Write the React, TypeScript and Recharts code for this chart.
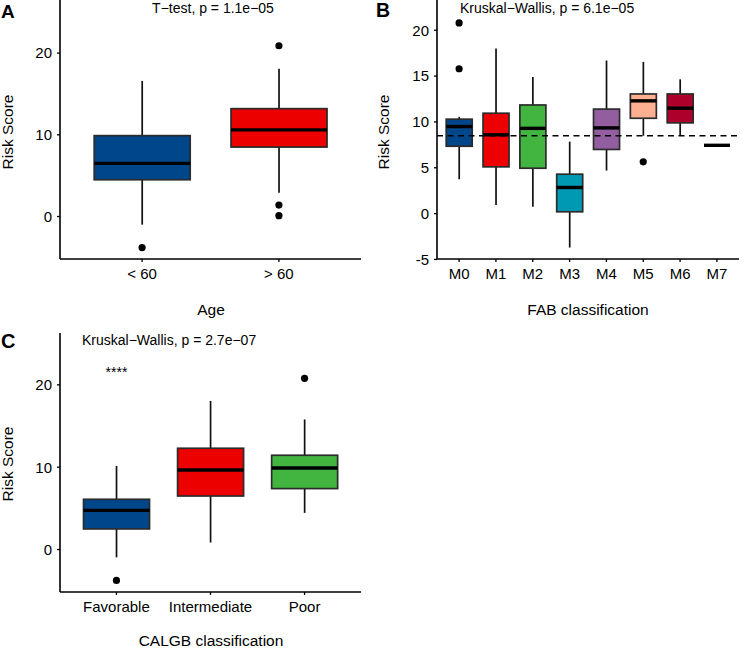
import { Bar, ComposedChart, ReferenceDot, ReferenceLine, Scatter, XAxis, YAxis } from 'recharts';

const FONT = '"Liberation Sans", Arial, Helvetica, sans-serif';

// Panel A: risk score by age group
const ageGroups = ['< 60', '> 60'];
const ageLower = [-1.0, 2.9];
const ageQ1 = [4.5, 8.5];
const ageMedian = [6.5, 10.6];
const ageQ3 = [9.9, 13.2];
const ageUpper = [16.6, 18.1];
const ageColors = ['#00468B', '#ED0000'];
const ageOutlierGroups = ['< 60', '> 60', '> 60', '> 60'];
const ageOutlierValues = [-3.8, 20.9, 1.4, 0.1];
const ageTicks = [0, 10, 20];

// Panel B: risk score by FAB classification
const fabGroups = ['M0', 'M1', 'M2', 'M3', 'M4', 'M5', 'M6', 'M7'];
const fabLower = [3.75, 0.95, 0.75, -3.7, 4.7, 8.5, 8.5, 7.45];
const fabQ1 = [7.35, 5.1, 4.95, 0.2, 7.0, 10.4, 9.9, 7.45];
const fabMedian = [9.5, 8.6, 9.3, 2.85, 9.35, 12.3, 11.5, 7.45];
const fabQ3 = [10.3, 10.95, 11.85, 4.3, 11.4, 13.05, 13.05, 7.45];
const fabUpper = [10.55, 18.0, 14.9, 7.85, 16.7, 16.55, 14.65, 7.45];
const fabColors = ['#00468B', '#ED0000', '#42B540', '#0099B4', '#925E9F', '#FDAF91', '#AD002A', '#ADB6B6'];
const fabOutlierGroups = ['M0', 'M0', 'M5'];
const fabOutlierValues = [20.8, 15.8, 5.65];
const fabOverallMedian = 8.5;
const fabTicks = [-5, 0, 5, 10, 15, 20];

// Panel C: risk score by CALGB classification
const calgbGroups = ['Favorable', 'Intermediate', 'Poor'];
const calgbLower = [-0.95, 0.85, 4.45];
const calgbQ1 = [2.5, 6.5, 7.4];
const calgbMedian = [4.75, 9.65, 9.9];
const calgbQ3 = [6.1, 12.3, 11.45];
const calgbUpper = [10.15, 18.05, 15.8];
const calgbColors = ['#00468B', '#ED0000', '#42B540'];
const calgbOutlierGroups = ['Favorable', 'Poor'];
const calgbOutlierValues = [-3.75, 20.8];
const calgbTicks = [0, 10, 20];
const calgbSignifGroup = 'Favorable';
const calgbSignifLevel = 21.6;

type BoxRow = {
  group: string;
  lower: number;
  q1: number;
  median: number;
  q3: number;
  upper: number;
  color: string;
};

const toRows = (
  groups: string[], lower: number[], q1: number[], median: number[],
  q3: number[], upper: number[], colors: string[],
): BoxRow[] =>
  groups.map((group, i) => ({
    group, lower: lower[i], q1: q1[i], median: median[i], q3: q3[i], upper: upper[i], color: colors[i],
  }));

const toPoints = (groups: string[], values: number[]) =>
  groups.map((group, i) => ({ group, value: values[i] }));

// The bar spans lower..upper whisker; box and median are placed on the same linear scale
const BoxShape = (props: any) => {
  const { x, y, width, height, payload } = props;
  if (!payload) return null;
  const top = Math.min(y, y + height);
  const bottom = Math.max(y, y + height);
  const span = payload.upper - payload.lower;
  const toY = (v: number) => (span === 0 ? top : top + ((bottom - top) * (payload.upper - v)) / span);
  const cx = x + width / 2;
  const yQ3 = toY(payload.q3);
  const yQ1 = toY(payload.q1);
  const yMed = toY(payload.median);
  return (
    <g>
      <line x1={cx} x2={cx} y1={toY(payload.upper)} y2={yQ3} stroke="#111" strokeWidth={1.7} />
      <line x1={cx} x2={cx} y1={yQ1} y2={toY(payload.lower)} stroke="#111" strokeWidth={1.7} />
      {span > 0 && (
        <rect x={x} y={yQ3} width={width} height={yQ1 - yQ3} fill={payload.color} stroke="#2b2b2b" strokeWidth={1.7} />
      )}
      <line x1={x} x2={x + width} y1={yMed} y2={yMed} stroke="#000" strokeWidth={3.4} />
    </g>
  );
};

const OutlierDot = (props: any) => <circle cx={props.cx} cy={props.cy} r={3.6} fill="#000" />;

type PanelProps = {
  rows: BoxRow[];
  points: { group: string; value: number }[];
  yDomain: [number, number];
  yTicks: number[];
  width: number;
  height: number;
  margin: { top: number; right: number; bottom: number; left: number };
  yAxisWidth: number;
  xAxisHeight: number;
  children?: any;
};

const BoxPanel = ({ rows, points, yDomain, yTicks, width, height, margin, yAxisWidth, xAxisHeight, children }: PanelProps) => {
  // discrete axis expanded by 0.6 of a category on each side
  const plotWidth = width - margin.left - margin.right - yAxisWidth;
  const pad = (plotWidth / (rows.length + 0.2)) * 0.1;
  const tickStyle = { fill: '#000', fontSize: 15, fontFamily: FONT };
  return (
    <ComposedChart width={width} height={height} data={rows} margin={margin} barCategoryGap="15%">
      <XAxis
        dataKey="group"
        type="category"
        allowDuplicatedCategory={false}
        padding={{ left: pad, right: pad }}
        height={xAxisHeight}
        interval={0}
        tickSize={3}
        tickMargin={6}
        stroke="#000"
        strokeWidth={1.6}
        tickLine={{ stroke: '#000', strokeWidth: 1.3 }}
        tick={tickStyle}
      />
      <YAxis
        type="number"
        domain={yDomain}
        ticks={yTicks}
        allowDataOverflow
        width={yAxisWidth}
        tickSize={3}
        tickMargin={5}
        stroke="#000"
        strokeWidth={1.6}
        tickLine={{ stroke: '#000', strokeWidth: 1.3 }}
        tick={tickStyle}
      />
      <Bar dataKey={(r: BoxRow) => [r.lower, r.upper]} shape={<BoxShape />} isAnimationActive={false} />
      <Scatter data={points} dataKey="value" shape={<OutlierDot />} isAnimationActive={false} />
      {children}
    </ComposedChart>
  );
};

const ageRows = toRows(ageGroups, ageLower, ageQ1, ageMedian, ageQ3, ageUpper, ageColors);
const fabRows = toRows(fabGroups, fabLower, fabQ1, fabMedian, fabQ3, fabUpper, fabColors);
const calgbRows = toRows(calgbGroups, calgbLower, calgbQ1, calgbMedian, calgbQ3, calgbUpper, calgbColors);

const textStyle = { fontFamily: FONT, fill: '#000' };

export default function App() {
  return (
    <div style={{ position: 'relative', width: 744, height: 657, background: '#fff', overflow: 'hidden' }}>
      <style>{'body{margin:0}'}</style>

      <div style={{ position: 'absolute', left: 0, top: 0 }}>
        <BoxPanel
          rows={ageRows}
          points={toPoints(ageOutlierGroups, ageOutlierValues)}
          yDomain={[-5.2, 26.5]}
          yTicks={ageTicks}
          width={372}
          height={320}
          margin={{ top: 0, right: 11, bottom: 0, left: 0 }}
          yAxisWidth={60}
          xAxisHeight={61}
        />
      </div>

      <div style={{ position: 'absolute', left: 372, top: 0 }}>
        <BoxPanel
          rows={fabRows}
          points={toPoints(fabOutlierGroups, fabOutlierValues)}
          yDomain={[-4.95, 23.3]}
          yTicks={fabTicks}
          width={372}
          height={320}
          margin={{ top: 0, right: 5, bottom: 0, left: 0 }}
          yAxisWidth={65}
          xAxisHeight={61}
        >
          <ReferenceLine y={fabOverallMedian} stroke="#000" strokeWidth={1.5} strokeDasharray="6 4.5" />
        </BoxPanel>
      </div>

      <div style={{ position: 'absolute', left: 0, top: 320 }}>
        <BoxPanel
          rows={calgbRows}
          points={toPoints(calgbOutlierGroups, calgbOutlierValues)}
          yDomain={[-5.16, 26.3]}
          yTicks={calgbTicks}
          width={372}
          height={337}
          margin={{ top: 13, right: 11, bottom: 0, left: 0 }}
          yAxisWidth={60}
          xAxisHeight={65}
        >
          <ReferenceDot
            x={calgbSignifGroup}
            y={calgbSignifLevel}
            r={0}
            stroke="none"
            label={{ value: '****', position: 'center', fontSize: 14, fill: '#000', fontFamily: FONT }}
          />
        </BoxPanel>
      </div>

      {/* panel tags, test results and axis titles */}
      <svg width={744} height={657} style={{ position: 'absolute', left: 0, top: 0, pointerEvents: 'none' }}>
        <text x={1} y={17.5} fontSize={19} fontWeight="bold" style={textStyle}>A</text>
        <text x={376} y={17} fontSize={19.5} fontWeight="bold" style={textStyle}>B</text>
        <text x={1} y={348} fontSize={20} fontWeight="bold" style={textStyle}>C</text>

        <text x={213} y={12.5} fontSize={14} textAnchor="middle" style={textStyle}>T−test, p = 1.1e−05</text>
        <text x={460} y={12.5} fontSize={14} style={textStyle}>Kruskal−Wallis, p = 6.1e−05</text>
        <text x={82} y={345} fontSize={14} style={textStyle}>Kruskal−Wallis, p = 2.7e−07</text>

        <text x={211} y={315} fontSize={15.5} textAnchor="middle" style={textStyle}>Age</text>
        <text x={588} y={315} fontSize={15.5} textAnchor="middle" style={textStyle}>FAB classification</text>
        <text x={211} y={646} fontSize={15.5} textAnchor="middle" style={textStyle}>CALGB classification</text>

        <text x={12.5} y={132} fontSize={15.5} textAnchor="middle" transform="rotate(-90 12.5 132)" style={textStyle}>Risk Score</text>
        <text x={389} y={132} fontSize={15.5} textAnchor="middle" transform="rotate(-90 389 132)" style={textStyle}>Risk Score</text>
        <text x={12.5} y={464} fontSize={15.5} textAnchor="middle" transform="rotate(-90 12.5 464)" style={textStyle}>Risk Score</text>
      </svg>
    </div>
  );
}
